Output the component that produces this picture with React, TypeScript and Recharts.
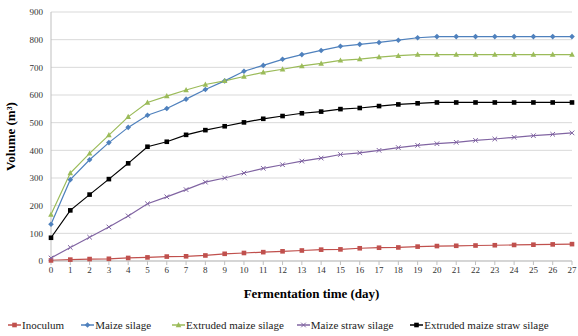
import React from 'react';
import { LineChart, Line, XAxis, YAxis, CartesianGrid, Legend } from 'recharts';

const days = [0, 1, 2, 3, 4, 5, 6, 7, 8, 9, 10, 11, 12, 13, 14, 15, 16, 17, 18, 19, 20, 21, 22, 23, 24, 25, 26, 27];

const inoculum = [2, 5, 7, 8, 11, 13, 16, 17, 20, 26, 29, 32, 35, 38, 41, 42, 46, 48, 49, 52, 54, 55, 56, 57, 58, 59, 60, 61];
const maizeSilage = [133, 294, 366, 428, 483, 527, 551, 585, 620, 651, 686, 707, 729, 746, 761, 776, 783, 790, 798, 807, 811, 811, 811, 811, 811, 811, 811, 811];
const extrudedMaizeSilage = [168, 318, 389, 455, 521, 573, 596, 618, 638, 651, 667, 682, 693, 705, 714, 725, 730, 737, 742, 746, 746, 746, 746, 746, 746, 746, 746, 746];
const maizeStrawSilage = [11, 49, 86, 123, 163, 207, 232, 258, 285, 300, 318, 335, 348, 361, 372, 385, 391, 400, 410, 418, 424, 429, 436, 441, 447, 453, 458, 463];
const extrudedMaizeStrawSilage = [84, 183, 240, 296, 353, 413, 431, 456, 473, 487, 501, 514, 524, 534, 540, 549, 553, 560, 566, 570, 573, 573, 573, 573, 573, 573, 573, 573];

const yTicks = [0, 100, 200, 300, 400, 500, 600, 700, 800, 900];

const data = days.map((d, i) => ({
  day: d,
  inoculum: inoculum[i],
  maize: maizeSilage[i],
  extMaize: extrudedMaizeSilage[i],
  straw: maizeStrawSilage[i],
  extStraw: extrudedMaizeStrawSilage[i],
}));

const FONT = '"Liberation Serif", "Times New Roman", serif';

const series = [
  { key: 'inoculum', name: 'Inoculum', color: '#C0504D', shape: 'square' },
  { key: 'maize', name: 'Maize silage', color: '#4F81BD', shape: 'diamond' },
  { key: 'extMaize', name: 'Extruded maize silage', color: '#9BBB59', shape: 'triangle' },
  { key: 'straw', name: 'Maize straw silage', color: '#8064A2', shape: 'x' },
  { key: 'extStraw', name: 'Extruded maize straw silage', color: '#000000', shape: 'square' },
];

function Marker({ cx, cy, shape, color }: { cx: number; cy: number; shape: string; color: string }) {
  if (cx == null || cy == null) return null;
  if (shape === 'square') {
    return <rect x={cx - 2.3} y={cy - 2.3} width={4.6} height={4.6} fill={color} />;
  }
  if (shape === 'diamond') {
    return <polygon points={`${cx},${cy - 2.8} ${cx + 2.8},${cy} ${cx},${cy + 2.8} ${cx - 2.8},${cy}`} fill={color} />;
  }
  if (shape === 'triangle') {
    return <polygon points={`${cx},${cy - 3} ${cx + 2.8},${cy + 2.2} ${cx - 2.8},${cy + 2.2}`} fill={color} />;
  }
  return (
    <g stroke={color} strokeWidth={1}>
      <line x1={cx - 2.3} y1={cy - 2.3} x2={cx + 2.3} y2={cy + 2.3} />
      <line x1={cx - 2.3} y1={cy + 2.3} x2={cx + 2.3} y2={cy - 2.3} />
    </g>
  );
}

// spacing after each legend entry
const legendGaps = [17, 21, 13, 17, 0];

const LegendContent = () => (
  <div style={{ display: 'flex', justifyContent: 'flex-start', paddingLeft: 8, paddingTop: 13, fontFamily: FONT, fontSize: 11, color: '#222' }}>
    {series.map((s, i) => (
      <div key={s.key} style={{ display: 'flex', alignItems: 'center', marginRight: legendGaps[i] }}>
        <svg width={13} height={10}>
          <line x1={0} y1={5} x2={13} y2={5} stroke={s.color} strokeWidth={1.5} />
          <Marker cx={6.5} cy={5} shape={s.shape} color={s.color} />
        </svg>
        <span style={{ marginLeft: 1 }}>{s.name}</span>
      </div>
    ))}
  </div>
);

export default function App() {
  return (
    <div style={{ position: 'absolute', left: 0, top: 0 }}>
      <LineChart width={578} height={336} data={data} margin={{ top: 12, right: 6, left: 0, bottom: 0 }}>
        <CartesianGrid vertical={false} stroke="#d9d9d9" />
        <XAxis
          dataKey="day"
          interval={0}
          height={45}
          tick={{ fontSize: 9, fontFamily: FONT, fill: '#333' }}
          stroke="#bfbfbf"
          tickSize={4}
          label={{ value: 'Fermentation time (day)', position: 'insideBottom', offset: 8, style: { fontFamily: FONT, fontSize: 13, fontWeight: 'bold', fill: '#000' } }}
        />
        <YAxis
          domain={[0, 900]}
          ticks={yTicks}
          width={51}
          tick={{ fontSize: 9, fontFamily: FONT, fill: '#333' }}
          stroke="#bfbfbf"
          tickLine={false}
          label={{ value: 'Volume (m³)', angle: -90, position: 'insideLeft', offset: 10, style: { textAnchor: 'middle', fontFamily: FONT, fontSize: 13, fontWeight: 'bold', fill: '#000' } }}
        />
        <Legend verticalAlign="bottom" height={30} content={<LegendContent />} />
        {series.map((s) => (
          <Line
            key={s.key}
            dataKey={s.key}
            name={s.name}
            stroke={s.color}
            strokeWidth={1.2}
            isAnimationActive={false}
            dot={(p: any) => <Marker key={`${s.key}-${p.index}`} cx={p.cx} cy={p.cy} shape={s.shape} color={s.color} />}
            activeDot={false}
          />
        ))}
      </LineChart>
    </div>
  );
}
